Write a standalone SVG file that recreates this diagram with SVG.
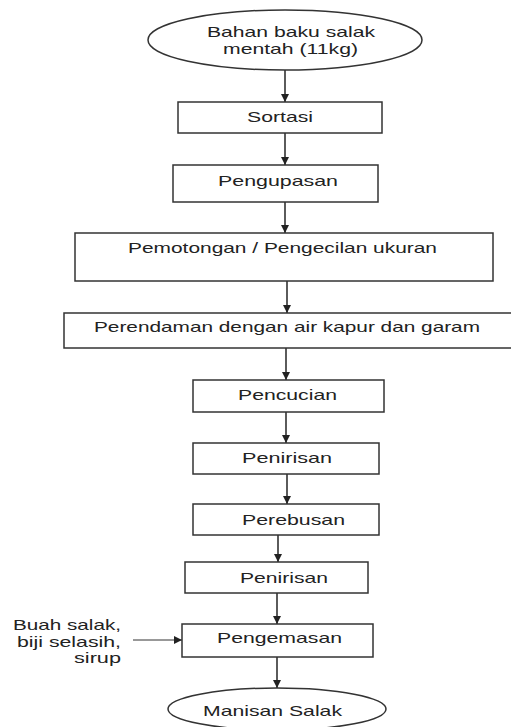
<svg xmlns="http://www.w3.org/2000/svg" width="511" height="727" viewBox="0 0 511 727">
<defs>
<style>
.box{fill:#fff;stroke:#333;stroke-width:1.5}
.t{font-family:"Liberation Sans",Arial,sans-serif;font-size:14.5px;fill:#222}
.c{stroke:#333;stroke-width:1.6;fill:none}
.s{stroke:#333;stroke-width:1;fill:none}
</style>
<marker id="ah" viewBox="0 0 10 10" refX="10" refY="5" markerWidth="5" markerHeight="5" markerUnits="strokeWidth" orient="auto">
<path d="M0,0 L10,5 L0,10 z" fill="#222"/>
</marker>
<marker id="ah2" viewBox="0 0 10 10" refX="10" refY="5" markerWidth="8" markerHeight="8" markerUnits="strokeWidth" orient="auto">
<path d="M0,0 L10,5 L0,10 z" fill="#222"/>
</marker>
</defs>
<rect width="511" height="727" fill="#fff"/>
<g id="connectors">
<line class="c" x1="285" y1="70" x2="285" y2="102" marker-end="url(#ah)"/>
<line class="c" x1="285" y1="133" x2="285" y2="165" marker-end="url(#ah)"/>
<line class="c" x1="285" y1="202" x2="285" y2="233" marker-end="url(#ah)"/>
<line class="c" x1="287" y1="281" x2="287" y2="313" marker-end="url(#ah)"/>
<line class="c" x1="286" y1="348" x2="286" y2="380" marker-end="url(#ah)"/>
<line class="c" x1="286" y1="412" x2="286" y2="443" marker-end="url(#ah)"/>
<line class="c" x1="287" y1="474" x2="287" y2="504" marker-end="url(#ah)"/>
<line class="c" x1="278" y1="535" x2="278" y2="562" marker-end="url(#ah)"/>
<line class="c" x1="277" y1="593" x2="277" y2="624" marker-end="url(#ah)"/>
<line class="c" x1="277" y1="657" x2="277" y2="688" marker-end="url(#ah)"/>
<line class="s" x1="133" y1="640" x2="182" y2="640" marker-end="url(#ah2)"/>
</g>
<g id="n-bahan">
<ellipse class="box" cx="285" cy="40" rx="137" ry="30"/>
<text class="t" x="207" y="37" textLength="168" lengthAdjust="spacingAndGlyphs">Bahan baku salak</text>
<text class="t" x="223" y="54" textLength="135" lengthAdjust="spacingAndGlyphs">mentah (11kg)</text>
</g>
<g id="n-sortasi">
<rect class="box" x="178" y="102" width="204" height="31"/>
<text class="t" x="247" y="122" textLength="66" lengthAdjust="spacingAndGlyphs">Sortasi</text>
</g>
<g id="n-pengupasan">
<rect class="box" x="173" y="165" width="205" height="37"/>
<text class="t" x="218" y="186" textLength="120" lengthAdjust="spacingAndGlyphs">Pengupasan</text>
</g>
<g id="n-pemotongan">
<rect class="box" x="75" y="233" width="418" height="48"/>
<text class="t" x="128" y="253" textLength="309" lengthAdjust="spacingAndGlyphs">Pemotongan / Pengecilan ukuran</text>
</g>
<g id="n-perendaman">
<rect class="box" x="64" y="313" width="460" height="35"/>
<text class="t" x="94" y="332" textLength="386" lengthAdjust="spacingAndGlyphs">Perendaman dengan air kapur dan garam</text>
</g>
<g id="n-pencucian">
<rect class="box" x="193" y="380" width="191" height="32"/>
<text class="t" x="238" y="400" textLength="99" lengthAdjust="spacingAndGlyphs">Pencucian</text>
</g>
<g id="n-penirisan1">
<rect class="box" x="193" y="443" width="186" height="31"/>
<text class="t" x="242" y="463" textLength="90" lengthAdjust="spacingAndGlyphs">Penirisan</text>
</g>
<g id="n-perebusan">
<rect class="box" x="193" y="504" width="186" height="31"/>
<text class="t" x="242" y="525" textLength="103" lengthAdjust="spacingAndGlyphs">Perebusan</text>
</g>
<g id="n-penirisan2">
<rect class="box" x="185" y="562" width="183" height="31"/>
<text class="t" x="240" y="583" textLength="88" lengthAdjust="spacingAndGlyphs">Penirisan</text>
</g>
<g id="n-pengemasan">
<rect class="box" x="182" y="624" width="191" height="33"/>
<text class="t" x="217" y="643" textLength="125" lengthAdjust="spacingAndGlyphs">Pengemasan</text>
</g>
<g id="n-input">
<text class="t" x="13" y="630" textLength="108" lengthAdjust="spacingAndGlyphs">Buah salak,</text>
<text class="t" x="17" y="647" textLength="104" lengthAdjust="spacingAndGlyphs">biji selasih,</text>
<text class="t" x="74" y="663" textLength="47" lengthAdjust="spacingAndGlyphs">sirup</text>
</g>
<g id="n-manisan">
<ellipse class="box" cx="277" cy="709" rx="109" ry="21"/>
<text class="t" x="203" y="716" textLength="139" lengthAdjust="spacingAndGlyphs">Manisan Salak</text>
</g>
</svg>
